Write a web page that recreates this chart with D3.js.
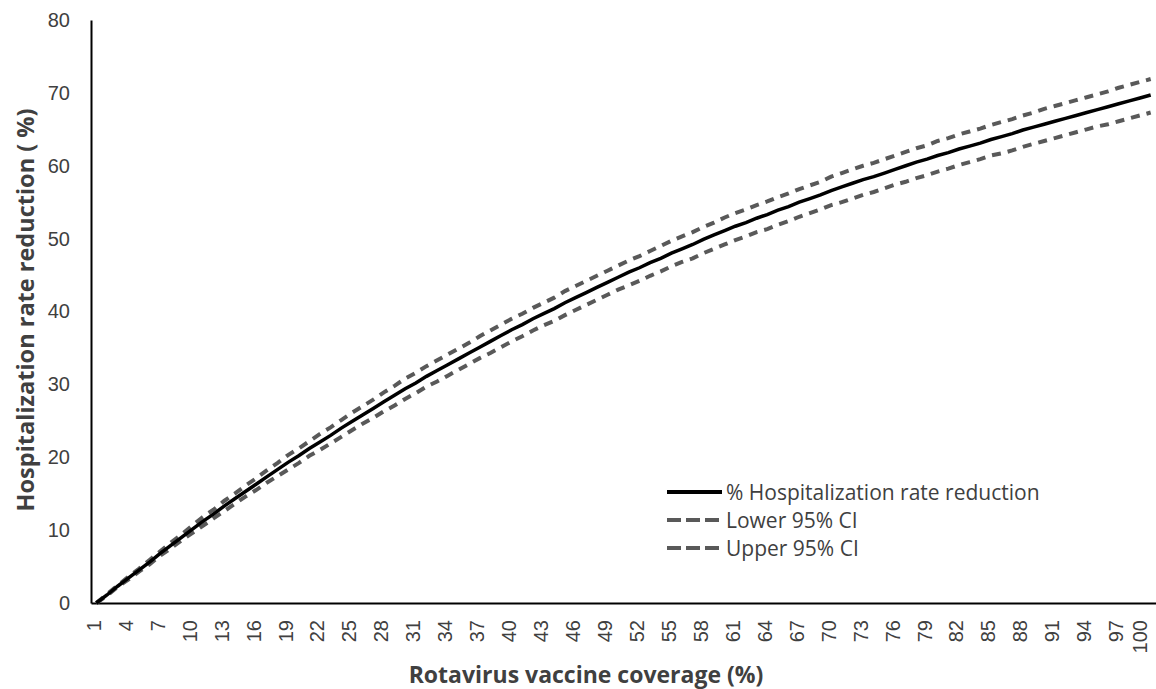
<!DOCTYPE html>
<html lang="en">
<head>
<meta charset="UTF-8">
<title>Rotavirus coverage</title>
<script src="https://d3js.org/d3.v7.min.js"></script>
<style>
  body, html { margin: 0; padding: 0; background: #fff; }
  svg { display: block; font-family: "Open Sans", "Noto Sans", sans-serif; }
</style>
</head>
<body>
<div id="chart"></div>
<script>
// coverage categories 1..100
const coverage = d3.range(1, 101);

const mainReduction = [
  0.0, 1.1, 2.3, 3.4, 4.5, 5.6, 6.8, 7.9, 9.0, 10.1,
  11.2, 12.2, 13.3, 14.3, 15.3, 16.3, 17.3, 18.3, 19.3, 20.2,
  21.2, 22.1, 23.0, 24.0, 24.9, 25.8, 26.7, 27.6, 28.5, 29.4,
  30.2, 31.1, 31.9, 32.7, 33.5, 34.3, 35.1, 35.9, 36.7, 37.5,
  38.2, 39.0, 39.7, 40.4, 41.2, 41.9, 42.6, 43.3, 44.0, 44.7,
  45.4, 46.0, 46.7, 47.3, 48.0, 48.6, 49.2, 49.9, 50.5, 51.1,
  51.7, 52.2, 52.8, 53.3, 53.9, 54.4, 55.0, 55.5, 56.0, 56.6,
  57.1, 57.6, 58.1, 58.5, 59.0, 59.5, 60.0, 60.5, 60.9, 61.4,
  61.8, 62.3, 62.7, 63.1, 63.6, 64.0, 64.4, 64.9, 65.3, 65.7,
  66.1, 66.5, 66.9, 67.3, 67.7, 68.1, 68.5, 68.9, 69.3, 69.7
];

const lowerCI = [
  0.0, 1.0, 2.2, 3.2, 4.3, 5.3, 6.5, 7.5, 8.6, 9.6,
  10.6, 11.6, 12.6, 13.6, 14.6, 15.5, 16.5, 17.4, 18.3, 19.2,
  20.2, 21.0, 21.9, 22.8, 23.7, 24.6, 25.4, 26.3, 27.1, 28.0,
  28.8, 29.7, 30.4, 31.2, 32.0, 32.8, 33.6, 34.3, 35.1, 35.9,
  36.6, 37.4, 38.1, 38.7, 39.5, 40.2, 40.9, 41.6, 42.3, 43.0,
  43.6, 44.2, 44.9, 45.5, 46.2, 46.8, 47.3, 48.0, 48.6, 49.2,
  49.8, 50.3, 50.9, 51.3, 51.9, 52.4, 53.0, 53.5, 54.0, 54.6,
  55.0, 55.5, 56.0, 56.4, 56.9, 57.4, 57.8, 58.3, 58.7, 59.2,
  59.6, 60.1, 60.5, 60.9, 61.4, 61.7, 62.1, 62.6, 63.0, 63.4,
  63.8, 64.2, 64.6, 65.0, 65.4, 65.7, 66.1, 66.5, 66.9, 67.3
];

const upperCI = [
  0.0, 1.2, 2.4, 3.6, 4.7, 5.9, 7.1, 8.3, 9.4, 10.6,
  11.8, 12.8, 14.0, 15.0, 16.1, 17.1, 18.2, 19.2, 20.3, 21.2,
  22.2, 23.2, 24.1, 25.1, 26.1, 27.0, 27.9, 28.9, 29.8, 30.8,
  31.6, 32.5, 33.3, 34.1, 34.9, 35.7, 36.6, 37.4, 38.2, 39.0,
  39.7, 40.5, 41.2, 41.9, 42.8, 43.5, 44.2, 44.9, 45.6, 46.3,
  47.0, 47.6, 48.3, 49.0, 49.7, 50.3, 50.9, 51.6, 52.2, 52.9,
  53.5, 54.0, 54.6, 55.1, 55.7, 56.2, 56.8, 57.3, 57.8, 58.5,
  59.0, 59.5, 60.0, 60.4, 60.9, 61.4, 61.9, 62.4, 62.8, 63.4,
  63.8, 64.3, 64.7, 65.1, 65.6, 66.0, 66.4, 66.9, 67.3, 67.8,
  68.2, 68.6, 69.0, 69.4, 69.8, 70.2, 70.7, 71.1, 71.5, 71.9
];

const yTicks = [0, 10, 20, 30, 40, 50, 60, 70, 80];
const xTickLabels = coverage.filter(c => (c - 1) % 3 === 0);

const legendItems = [
  { label: "% Hospitalization rate reduction", dashed: false },
  { label: "Lower 95% CI", dashed: true },
  { label: "Upper 95% CI", dashed: true }
];

const width = 1156, height = 689;
const margin = { top: 20, right: 0, bottom: 86, left: 91 };

const svg = d3.select("#chart").append("svg")
  .attr("width", width)
  .attr("height", height);

const x = d3.scaleBand()
  .domain(coverage)
  .range([margin.left, width - margin.right]);

const y = d3.scaleLinear()
  .domain([0, 80])
  .range([height - margin.bottom, margin.top]);

const cx = c => x(c) + x.bandwidth() / 2;

// y axis
const yAxis = svg.append("g")
  .attr("transform", `translate(${margin.left},0)`)
  .call(d3.axisLeft(y).tickValues(yTicks).tickSize(0).tickPadding(21));
yAxis.select(".domain").attr("stroke", "#000").attr("stroke-width", 2);
yAxis.selectAll("text")
  .attr("fill", "#404040")
  .style("font-size", "20px");

// x axis, labels turned to read upwards
const xAxis = svg.append("g")
  .attr("transform", `translate(0,${height - margin.bottom})`)
  .call(d3.axisBottom(x).tickValues(xTickLabels).tickSize(0).tickPadding(0));
xAxis.select(".domain").attr("stroke", "#000").attr("stroke-width", 2);
xAxis.selectAll("text")
  .attr("fill", "#404040")
  .style("font-size", "20px")
  .attr("transform", "rotate(-90)")
  .attr("text-anchor", "end")
  .attr("x", -17)
  .attr("y", 0)
  // last label is nudged in so it stays inside the frame
  .attr("dy", d => d === 100 ? -4 : 4.5);

// lines
const line = d3.line()
  .x((d, i) => cx(coverage[i]))
  .y(d => y(d));

svg.append("path")
  .datum(lowerCI)
  .attr("fill", "none")
  .attr("stroke", "#595959")
  .attr("stroke-width", 4)
  .attr("stroke-dasharray", "9,7")
  .attr("d", line);

svg.append("path")
  .datum(upperCI)
  .attr("fill", "none")
  .attr("stroke", "#595959")
  .attr("stroke-width", 4)
  .attr("stroke-dasharray", "9,7")
  .attr("d", line);

svg.append("path")
  .datum(mainReduction)
  .attr("fill", "none")
  .attr("stroke", "#000")
  .attr("stroke-width", 3.5)
  .attr("d", line);

// axis titles
svg.append("text")
  .attr("x", 586)
  .attr("y", 683)
  .attr("text-anchor", "middle")
  .attr("fill", "#404040")
  .style("font-size", "23px")
  .style("font-weight", "bold")
  .text("Rotavirus vaccine coverage (%)");

svg.append("text")
  .attr("transform", "translate(34,310) rotate(-90)")
  .attr("text-anchor", "middle")
  .attr("fill", "#404040")
  .style("font-size", "23.5px")
  .style("font-weight", "bold")
  .text("Hospitalization rate reduction ( %)");

// legend
const legend = svg.append("g").attr("transform", "translate(667,492)");
legendItems.forEach((item, i) => {
  const g = legend.append("g").attr("transform", `translate(0,${i * 28})`);
  g.append("line")
    .attr("x1", 0).attr("x2", 55)
    .attr("stroke", item.dashed ? "#595959" : "#000")
    .attr("stroke-width", 4)
    .attr("stroke-dasharray", item.dashed ? "14,5" : null);
  g.append("text")
    .attr("x", 59)
    .attr("dy", "0.36em")
    .attr("fill", "#404040")
    .style("font-size", "21px")
    .text(item.label);
});
</script>
</body>
</html>
